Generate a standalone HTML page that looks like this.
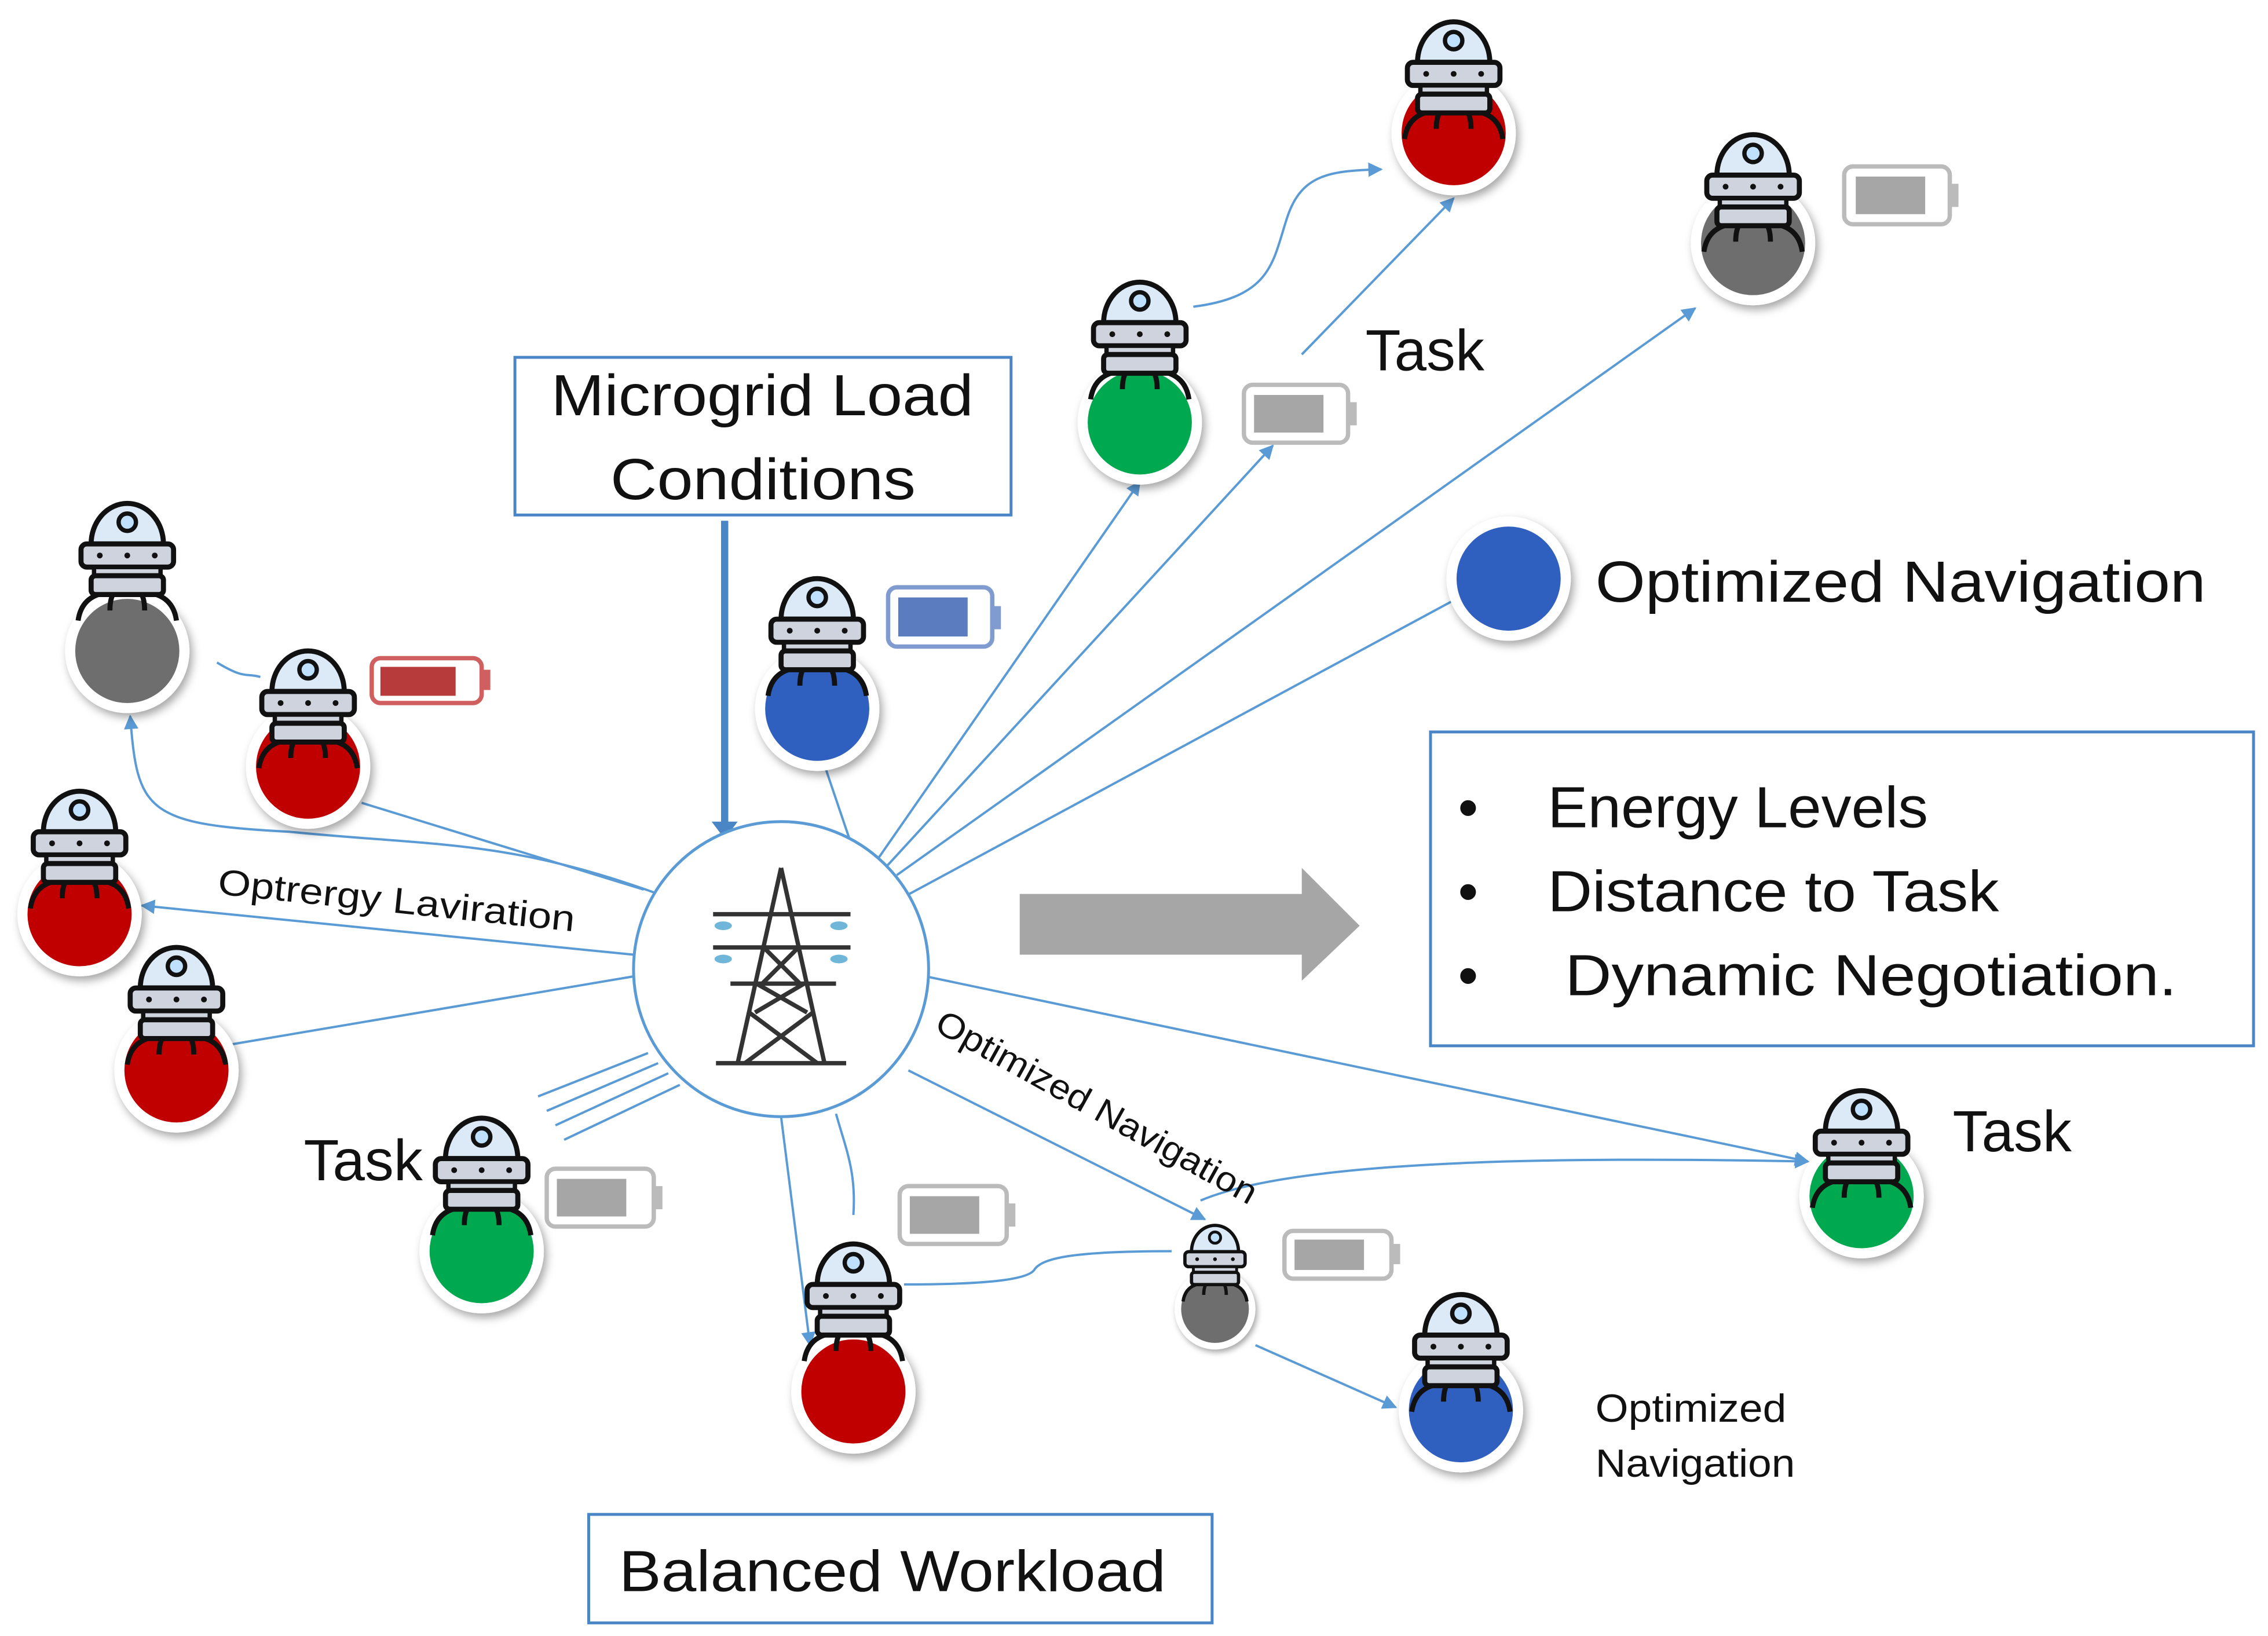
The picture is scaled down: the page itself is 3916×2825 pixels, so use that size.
<!DOCTYPE html>
<html><head><meta charset="utf-8"><style>
html,body{margin:0;padding:0;background:#fff}
svg{display:block}
text{font-family:"Liberation Sans","DejaVu Sans",sans-serif;fill:#111}
</style></head><body>
<svg width="3916" height="2825" viewBox="0 0 1568 1131" xmlns="http://www.w3.org/2000/svg">
<defs>
<marker id="ah" markerWidth="10" markerHeight="10" refX="9" refY="5" orient="auto" markerUnits="userSpaceOnUse">
<path d="M0,0 L10,5 L0,10 z" fill="#5b9bd5"/></marker>
<filter id="sh" x="-30%" y="-30%" width="160%" height="160%"><feDropShadow dx="2" dy="3" stdDeviation="3" flood-color="#000" flood-opacity="0.35"/></filter>
<g id="head">
<path d="M-25,-69 A25,28 0 0 1 25,-69 Z" fill="#dce9f7" stroke="#111" stroke-width="3.5"/>
<circle cx="0" cy="-84" r="6" fill="#bfe0ff" stroke="#111" stroke-width="3"/>
<rect x="-32" y="-69" width="64" height="16" rx="4" fill="#cfd3dd" stroke="#111" stroke-width="3.5"/>
<rect x="-23" y="-53" width="46" height="6" fill="#cfd3dd" stroke="#111" stroke-width="3"/>
<rect x="-25" y="-47" width="50" height="13" rx="3" fill="#cfd3dd" stroke="#111" stroke-width="3.5"/>
<circle cx="-19" cy="-61" r="2" fill="#111"/><circle cx="0" cy="-61" r="2" fill="#111"/><circle cx="19" cy="-61" r="2" fill="#111"/>
<path d="M-20,-34 Q-32,-30 -34,-16 M-10,-34 Q-12,-30 -12,-23 M10,-34 Q12,-30 12,-23 M20,-34 Q32,-30 34,-16" fill="none" stroke="#111" stroke-width="3.5"/>
</g>
<g id="ballR"><circle r="43" fill="#fff" filter="url(#sh)"/><circle r="36" fill="#c00000"/></g>
<g id="ballG"><circle r="43" fill="#fff" filter="url(#sh)"/><circle r="36" fill="#00a84f"/></g>
<g id="ballB"><circle r="43" fill="#fff" filter="url(#sh)"/><circle r="36" fill="#2f5fbf"/></g>
<g id="ballK"><circle r="43" fill="#fff" filter="url(#sh)"/><circle r="36" fill="#6e6e6e"/></g>
</defs>

<!-- connectors -->
<g fill="none" stroke="#5b9bd5" stroke-width="1.6">
<path d="M825,212 C880,205 880,180 890,150 C900,120 920,118 955,117" marker-end="url(#ah)"/>
<path d="M900,245 L1005,137" marker-end="url(#ah)"/>
<path d="M604,598 L788,333" marker-end="url(#ah)"/>
<path d="M612,600 L880,308" marker-end="url(#ah)"/>
<path d="M620,605 L1172,213" marker-end="url(#ah)"/>
<path d="M625,620 L1005,415"/>
<path d="M590,588 L568,523"/>
<path d="M455,618 C350,580 300,585 200,575 C100,570 95,560 90,495" marker-end="url(#ah)"/>
<path d="M445,615 L250,555"/>
<path d="M150,458 C170,470 170,465 180,468"/>
<path d="M438,660 L98,626" marker-end="url(#ah)"/>
<path d="M438,675 L160,722"/>
<path d="M448,728 L372,758 M455,735 L378,768 M462,742 L384,778 M470,750 L390,788"/>
<path d="M540,772 L560,930" marker-end="url(#ah)"/>
<path d="M578,770 C585,795 592,810 590,840"/>
<path d="M625,888 C680,888 710,885 715,878 C720,870 740,865 810,865"/>
<path d="M628,740 L833,843" marker-end="url(#ah)"/>
<path d="M640,675 L1250,803" marker-end="url(#ah)"/>
<path d="M830,830 C900,800 1100,800 1250,803" marker-end="url(#ah)"/>
<path d="M868,930 L965,973" marker-end="url(#ah)"/>
</g>
<path d="M501,360 L501,570" stroke="#4a86c5" stroke-width="5"/>
<path d="M492,568 L501,580 L510,568 Z" fill="#4a86c5"/>

<path d="M705,618 L900,618 L900,600 L940,640 L900,678 L900,660 L705,660 Z" fill="#a6a6a6"/>

<circle cx="540" cy="670" r="102" fill="#fff" stroke="#5b9bd5" stroke-width="2"/>
<g stroke="#333" stroke-width="3" fill="none">
<path d="M540,600 L510,735 M540,600 L570,735 M495,735 L585,735"/>
<path d="M493,632 L588,632 M493,655 L588,655 M505,680 L578,680"/>
<path d="M518,700 L565,735 M562,700 L515,735 M523,680 L558,700 M556,680 L522,700 M528,655 L553,680 M552,655 L527,680"/>
</g>
<g fill="#6fb6d8"><ellipse cx="500" cy="640" rx="6" ry="3"/><ellipse cx="580" cy="640" rx="6" ry="3"/><ellipse cx="500" cy="663" rx="6" ry="3"/><ellipse cx="580" cy="663" rx="6" ry="3"/></g>

<rect x="356" y="247" width="343" height="109" fill="#fff" stroke="#4a86c5" stroke-width="2"/>
<text x="381" y="287" font-size="40" textLength="292" lengthAdjust="spacingAndGlyphs">Microgrid Load</text>
<text x="422" y="345" font-size="40" textLength="211" lengthAdjust="spacingAndGlyphs">Conditions</text>
<rect x="989" y="506" width="569" height="217" fill="#fff" stroke="#4a86c5" stroke-width="2"/>
<g font-size="40"><text x="1008" y="572">•</text><text x="1070" y="572" textLength="263" lengthAdjust="spacingAndGlyphs">Energy Levels</text>
<text x="1008" y="630">•</text><text x="1070" y="630" textLength="312" lengthAdjust="spacingAndGlyphs">Distance to Task</text>
<text x="1008" y="688">•</text><text x="1082" y="688" textLength="423" lengthAdjust="spacingAndGlyphs">Dynamic Negotiation.</text></g>
<rect x="407" y="1047" width="431" height="75" fill="#fff" stroke="#4a86c5" stroke-width="2"/>
<text x="428" y="1100" font-size="40" textLength="378" lengthAdjust="spacingAndGlyphs">Balanced Workload</text>

<text x="944" y="256" font-size="40">Task</text>
<text x="1103" y="416" font-size="40" textLength="422" lengthAdjust="spacingAndGlyphs">Optimized Navigation</text>
<text x="1350" y="796" font-size="40">Task</text>
<text x="210" y="816" font-size="40">Task</text>
<text x="1103" y="983" font-size="27" textLength="132" lengthAdjust="spacingAndGlyphs">Optimized</text>
<text x="1103" y="1021" font-size="27" textLength="138" lengthAdjust="spacingAndGlyphs">Navigation</text>
<text x="150" y="618" font-size="25" transform="rotate(6 150 618)" textLength="248" lengthAdjust="spacingAndGlyphs">Optrergy Laviration</text>
<text x="645" y="712" font-size="24" transform="rotate(29 645 712)" textLength="250" lengthAdjust="spacingAndGlyphs">Optimized Navigation</text>

<g stroke-width="3">
<rect x="1275" y="115" width="73" height="40" rx="6" fill="#fff" stroke="#bbb"/><rect x="1348" y="127" width="6" height="16" fill="#bbb"/><rect x="1283" y="122" width="48" height="26" fill="#a6a6a6" stroke="none"/>
<rect x="860" y="266" width="72" height="40" rx="6" fill="#fff" stroke="#bbb"/><rect x="932" y="278" width="6" height="16" fill="#bbb"/><rect x="867" y="273" width="48" height="26" fill="#a6a6a6" stroke="none"/>
<rect x="614" y="406" width="72" height="41" rx="6" fill="#fff" stroke="#7f9bd0"/><rect x="686" y="419" width="6" height="16" fill="#7f9bd0"/><rect x="621" y="413" width="48" height="27" fill="#5c7cc0" stroke="none"/>
<rect x="257" y="455" width="76" height="31" rx="6" fill="#fff" stroke="#d06060"/><rect x="333" y="463" width="6" height="14" fill="#d06060"/><rect x="263" y="461" width="52" height="20" fill="#b83b3b" stroke="none"/>
<rect x="378" y="808" width="74" height="40" rx="6" fill="#fff" stroke="#bbb"/><rect x="452" y="820" width="6" height="16" fill="#bbb"/><rect x="385" y="815" width="48" height="26" fill="#a6a6a6" stroke="none"/>
<rect x="622" y="820" width="74" height="40" rx="6" fill="#fff" stroke="#bbb"/><rect x="696" y="832" width="6" height="16" fill="#bbb"/><rect x="629" y="827" width="48" height="26" fill="#a6a6a6" stroke="none"/>
<rect x="888" y="851" width="74" height="33" rx="6" fill="#fff" stroke="#bbb"/><rect x="962" y="860" width="6" height="14" fill="#bbb"/><rect x="895" y="857" width="48" height="21" fill="#a6a6a6" stroke="none"/>
</g>

<g transform="translate(1043,400)"><use href="#ballB"/></g>

<g transform="translate(1005,92)"><use href="#ballR"/><use href="#head" transform="translate(0,20)"/></g>
<g transform="translate(1212,168)"><use href="#ballK"/><use href="#head" transform="translate(0,22)"/></g>
<g transform="translate(788,292)"><use href="#ballG"/><use href="#head"/></g>
<g transform="translate(565,490)"><use href="#ballB"/><use href="#head" transform="translate(0,7)"/></g>
<g transform="translate(88,450)"><use href="#ballK"/><use href="#head" transform="translate(0,-5)"/></g>
<g transform="translate(213,530)"><use href="#ballR"/><use href="#head" transform="translate(0,17)"/></g>
<g transform="translate(55,632)"><use href="#ballR"/><use href="#head" transform="translate(0,12)"/></g>
<g transform="translate(122,740)"><use href="#ballR"/><use href="#head" transform="translate(0,12)"/></g>
<g transform="translate(333,865)"><use href="#ballG"/><use href="#head" transform="translate(0,5)"/></g>
<g transform="translate(590,962)"><use href="#ballR"/><use href="#head" transform="translate(0,-5)"/></g>
<g transform="translate(840,905) scale(0.65)"><use href="#ballK"/><use href="#head" transform="translate(0,8)"/></g>
<g transform="translate(1010,975)"><use href="#ballB"/><use href="#head" transform="translate(0,17)"/></g>
<g transform="translate(1287,827)"><use href="#ballG"/><use href="#head" transform="translate(0,24)"/></g>
</svg>
</body></html>
